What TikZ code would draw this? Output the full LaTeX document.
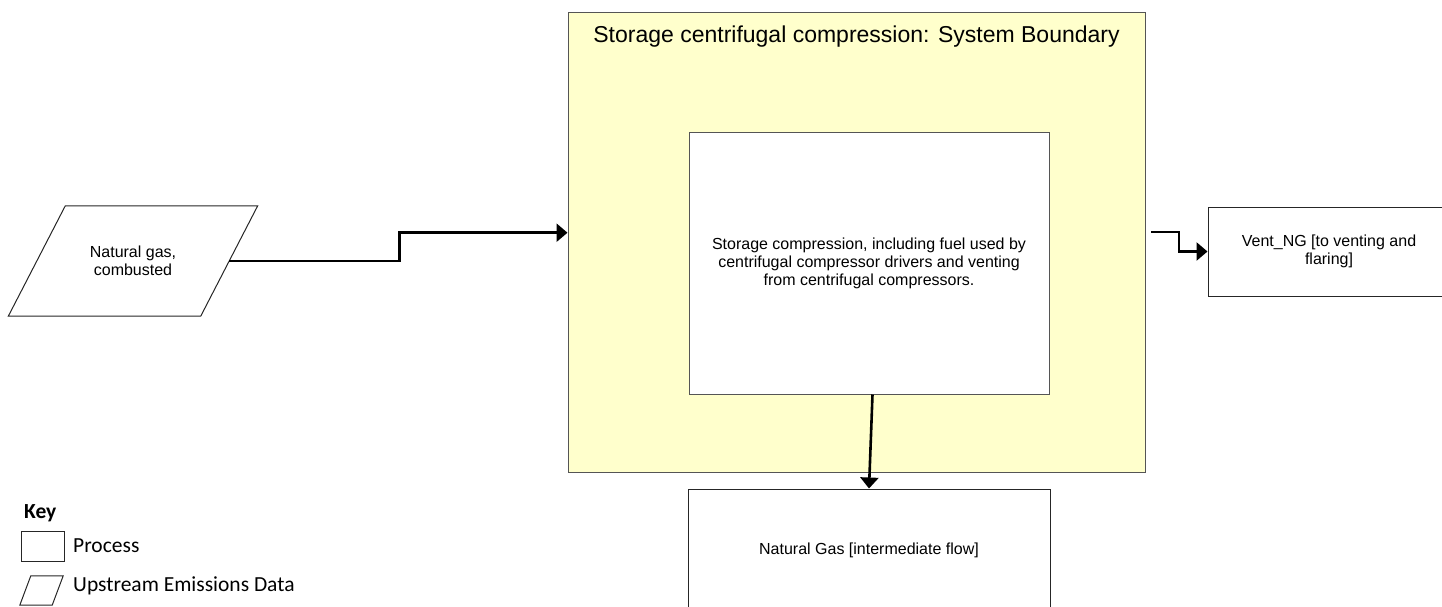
\documentclass[tikz,border=0pt]{standalone}
\usepackage{fontspec}
\setmainfont{Liberation Sans}
\newfontfamily\keyfont{Carlito}
\usepackage{xcolor}
\usepackage{tikz}
\usetikzlibrary{arrows.meta, positioning}

\definecolor{boundfill}{HTML}{FFFFCC}
\definecolor{edgegray}{HTML}{555555}

\begin{document}
\begin{tikzpicture}[x=1pt, y=-1pt,
  process/.style={rectangle, draw=edgegray, fill=white, line width=1pt, align=center, inner sep=2pt, font=\fontsize{16}{18}\selectfont},
  upstream/.style={rectangle, align=center, inner sep=1pt, font=\fontsize{16}{18}\selectfont},
  slanted/.style={draw=black!85, line width=1pt, line join=miter},
  boundary/.style={rectangle, draw=edgegray, fill=boundfill, line width=1pt},
  keytxt/.style={font=\keyfont\fontsize{21.5}{25}\selectfont, inner sep=0pt},
  flow/.style={-{Triangle[length=11pt, width=18pt]}, line width=2.6pt}
]
\useasboundingbox (0,0) rectangle (1442,606);

% Nodes
\node[boundary, minimum width=577pt, minimum height=460pt] (bound) at (856.5,242.7) {};
\node[anchor=base, font=\fontsize{23}{27}\selectfont] (boundtitle) at (856.5,42) {Storage centrifugal compression: System Boundary};
\node[process, minimum width=360pt, minimum height=262pt] (storage) at (869,263) {Storage compression, including fuel used by\\centrifugal compressor drivers and venting\\from centrifugal compressors.};
\node[upstream, minimum width=192pt, minimum height=110pt] (natgas) at (133,261) {Natural gas,\\combusted};
\node[process, draw=black!85, minimum width=242pt, minimum height=89pt] (vent) at (1329,251.5) {Vent\_NG [to venting and\\flaring]};
\node[process, draw=black!85, minimum width=362pt, minimum height=122pt] (ngflow) at (869,550) {Natural Gas [intermediate flow]};
\coordinate (ventout) at (1151,232);

% Key
\node[keytxt, anchor=base west] (keytitle) at (24,518) {\textbf{Key}};
\node[rectangle, draw=black!85, line width=1pt, minimum width=43pt, minimum height=30pt, inner sep=0pt] (keybox) at (42.5,546) {};
\node[keytxt, anchor=base west] (keyproc) at (73,552) {Process};
\node[upstream, minimum width=32pt, minimum height=29pt] (keypara) at (41.5,590.5) {};
\node[keytxt, anchor=base west] (keyup) at (73,591) {Upstream Emissions Data};

% Parallelograms
\draw[slanted] ([xshift=28.5pt]natgas.north west) -- ([xshift=28.5pt]natgas.north east)
  -- ([xshift=-28.5pt]natgas.south east) -- ([xshift=-28.5pt]natgas.south west) -- cycle;
\draw[slanted] ([xshift=5.5pt]keypara.north west) -- ([xshift=5.5pt]keypara.north east)
  -- ([xshift=-5.5pt]keypara.south east) -- ([xshift=-5.5pt]keypara.south west) -- cycle;

% Arrows
\draw[flow] (natgas.east) -- ++(170,0) |- ([yshift=10pt]bound.west);
\draw[flow] (ventout) -- ++(28,0) |- (vent.west);
\draw[flow] ([xshift=3.5pt]storage.south) -- (ngflow.north);

\end{tikzpicture}
\end{document}
